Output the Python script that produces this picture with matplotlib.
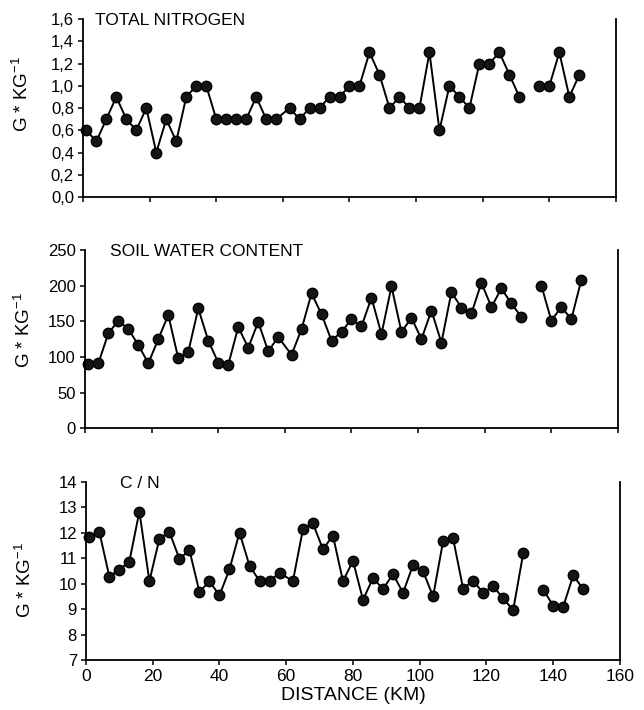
import numpy as np
import matplotlib
matplotlib.use("Agg")
import matplotlib.pyplot as plt

plt.rcParams['font.family'] = ['Liberation Sans', 'DejaVu Sans']
plt.rcParams['mathtext.fontset'] = 'custom'
plt.rcParams['mathtext.rm'] = 'Liberation Sans'
plt.rcParams['mathtext.it'] = 'Liberation Sans:italic'

# Sampling distances along the transect (km); gap after 131 km
dist_a = [1, 4, 7, 10, 13, 16, 19, 22, 25, 28, 31, 34, 37, 40, 43, 46, 49, 52, 55, 58,
          62, 65, 68, 71, 74, 77, 80, 83, 86, 89, 92, 95, 98, 101, 104, 107, 110, 113,
          116, 119, 122, 125, 128, 131]
dist_b = [137, 140, 143, 146, 149]

# Total nitrogen (g/kg)
nitrogen_a = [0.6, 0.5, 0.7, 0.9, 0.7, 0.6, 0.8, 0.4, 0.7, 0.5, 0.9, 1.0, 1.0, 0.7, 0.7,
              0.7, 0.7, 0.9, 0.7, 0.7, 0.8, 0.7, 0.8, 0.8, 0.9, 0.9, 1.0, 1.0, 1.3, 1.1,
              0.8, 0.9, 0.8, 0.8, 1.3, 0.6, 1.0, 0.9, 0.8, 1.2, 1.2, 1.3, 1.1, 0.9]
nitrogen_b = [1.0, 1.0, 1.3, 0.9, 1.1]

# Soil water content (g/kg)
water_a = [90, 91, 133, 151, 139, 117, 91, 125, 159, 98, 107, 168, 123, 92, 89, 142,
           113, 149, 108, 128, 103, 139, 189, 160, 123, 135, 153, 143, 183, 132, 199,
           135, 155, 125, 165, 120, 191, 169, 161, 204, 170, 196, 175, 156]
water_b = [200, 151, 170, 153, 208]

# C/N ratio
cn_a = [11.85, 12.04, 10.28, 10.55, 10.87, 12.84, 10.10, 11.77, 12.03, 10.98, 11.32,
        9.68, 10.10, 9.54, 10.57, 12.01, 10.71, 10.11, 10.11, 10.43, 10.10, 12.14, 12.37,
        11.36, 11.89, 10.10, 10.90, 9.37, 10.22, 9.79, 10.38, 9.64, 10.74, 10.49, 9.50,
        11.67, 11.78, 9.81, 10.12, 9.64, 9.91, 9.42, 8.96, 11.19]
cn_b = [9.77, 9.14, 9.10, 10.33, 9.78]

x_ticks = [0, 20, 40, 60, 80, 100, 120, 140, 160]
n_ticks = [0.0, 0.2, 0.4, 0.6, 0.8, 1.0, 1.2, 1.4, 1.6]
n_labels = ['0,0', '0,2', '0,4', '0,6', '0,8', '1,0', '1,2', '1,4', '1,6']
w_ticks = [0, 50, 100, 150, 200, 250]
cn_ticks = [7, 8, 9, 10, 11, 12, 13, 14]

panels = [
    dict(rect=[0.1289, 0.7225, 0.8276, 0.2507], a=nitrogen_a, b=nitrogen_b,
         ylim=(0, 1.6), yt=n_ticks, ytl=n_labels, title='TOTAL NITROGEN',
         tx=0.022, ly=0.58),
    dict(rect=[0.1320, 0.3968, 0.8276, 0.2511], a=water_a, b=water_b,
         ylim=(0, 250), yt=w_ticks, ytl=[str(t) for t in w_ticks],
         title='SOIL WATER CONTENT', tx=0.047, ly=0.55),
    dict(rect=[0.1335, 0.0704, 0.8292, 0.2507], a=cn_a, b=cn_b,
         ylim=(7, 14), yt=cn_ticks, ytl=[str(t) for t in cn_ticks],
         title='C / N', tx=0.064, ly=0.45),
]

fig = plt.figure(figsize=(6.44, 7.10), dpi=100)

for i, p in enumerate(panels):
    ax = fig.add_axes(p['rect'])
    for xs, ys in ((dist_a, p['a']), (dist_b, p['b'])):
        ax.plot(xs, ys, color='black', lw=1.4, marker='o', markersize=7.5,
                markerfacecolor='#151515', markeredgecolor='black', clip_on=False)
    ax.set_xlim(0, 160)
    ax.set_ylim(*p['ylim'])
    ax.set_xticks(x_ticks)
    ax.set_yticks(p['yt'])
    ax.set_yticklabels(p['ytl'])
    ax.spines['top'].set_visible(False)
    for s in ('left', 'bottom', 'right'):
        ax.spines[s].set_linewidth(1.3)
    ax.tick_params(direction='out', length=3.5, width=1.1, labelsize=12, pad=3)
    if i < 2:
        ax.tick_params(axis='x', labelbottom=False)
    else:
        ax.tick_params(axis='x', labelsize=12.5)
        ax.set_xlabel('DISTANCE (KM)', fontsize=14, labelpad=2)
    ax.set_ylabel(r'G * KG$^{\mathrm{-1}}$', fontsize=13.5)
    ax.yaxis.set_label_coords(-0.095, p['ly'])
    ax.text(p['tx'], 0.99, p['title'], transform=ax.transAxes, fontsize=12.5,
            ha='left', va='center')

fig.savefig('out.png', dpi=100)
